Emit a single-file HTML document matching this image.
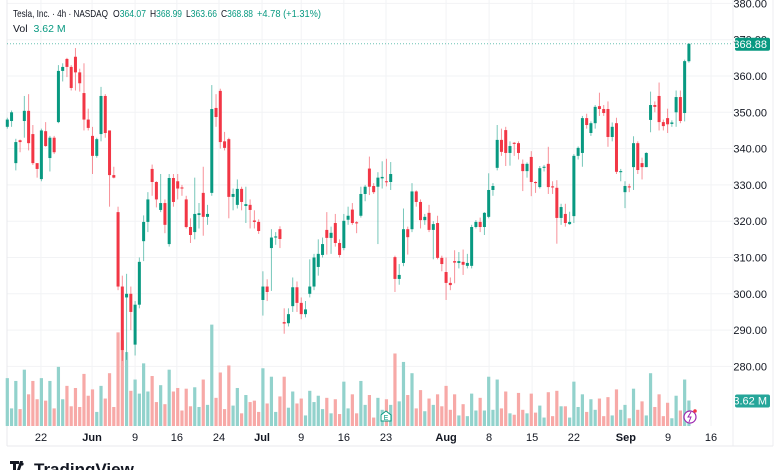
<!DOCTYPE html>
<html><head><meta charset="utf-8"><style>
html,body{margin:0;padding:0;background:#fff;}
svg{display:block;font-family:"Liberation Sans",sans-serif;}
</style></head><body>
<svg id="chart" width="780" height="470" viewBox="0 0 780 470">
<g id="grid"></g>
<g id="vols"></g>
<g id="candles"></g>
<g id="axes"></g>
<g font-size="10.5">
<text x="13" y="17" fill="#131722" textLength="95" lengthAdjust="spacingAndGlyphs">Tesla, Inc. · 4h · NASDAQ</text>
<text x="113" y="17" fill="#131722" textLength="33" lengthAdjust="spacingAndGlyphs">O<tspan fill="#089981">364.07</tspan></text>
<text x="150" y="17" fill="#131722" textLength="32" lengthAdjust="spacingAndGlyphs">H<tspan fill="#089981">368.99</tspan></text>
<text x="186" y="17" fill="#131722" textLength="31" lengthAdjust="spacingAndGlyphs">L<tspan fill="#089981">363.66</tspan></text>
<text x="221" y="17" fill="#131722" textLength="32" lengthAdjust="spacingAndGlyphs">C<tspan fill="#089981">368.88</tspan></text>
<text x="257" y="17" fill="#089981" textLength="64" lengthAdjust="spacingAndGlyphs">+4.78 (+1.31%)</text>
<text x="13" y="32" fill="#131722">Vol <tspan fill="#089981" dx="3">3.62 M</tspan></text>
</g>
<g>
<path d="M10 461h9v3h-3v9h-3v-9h-3z M20 461h3l-4 12h-3z" fill="#131722"/>
<circle cx="22" cy="464" r="1.6" fill="#131722"/>
<text x="34" y="475" font-size="17" font-weight="bold" fill="#131722">TradingView</text>
</g>
</svg>
<script>
const opens=[346,347.6,336,342.3,347.6,350.4,344,336,331.6,344.8,337.4,343,347.3,361.4,364.7,362.5,365.3,361,355.3,348,343.5,338,344,354.5,345,332.7,322.5,302,299,300,286,297,314.5,319.8,334.4,330.8,323.1,325,313.7,331.9,331,329.3,326,318.4,317,321.7,327.8,321.2,327.8,351.2,355.9,342,342.6,326.7,324.5,328.9,324.2,324.5,320.2,319.8,298.3,302,312.6,315.5,317.8,292.2,291.9,296.6,301.8,297.5,294.4,300,302,307.4,310.7,317.6,315.4,319.5,314,312.6,320.4,323.2,319.7,321.5,327.5,334.5,329.7,329.5,331.8,331,330.8,310.1,304.1,308.5,317.8,317.8,328.2,325.3,320.3,322.3,317.6,319.5,309.9,306,303,309,308.5,308.8,307.7,307.7,318.4,319.8,318.4,321.2,328.6,334.7,342.4,345.1,338.8,341.6,341.5,335.8,333.8,337.7,330.8,329.4,334.7,335.8,329.6,329.2,320.9,322,319.2,321.4,338,338.8,348.4,344.3,347,351.7,350.9,350.9,343.2,347,333.5,328,329.6,334.9,341.5,336,334.9,347.9,352,354.5,347.3,348.4,346.8,350,354.2,349.8,364.07];
const highs=[348.5,350.5,342.7,342.5,354.5,355,346.5,336,345.5,347.3,343.5,343.5,363,363.5,365,363,367.7,362,363.5,351,346,343,357,355,345,335,324,305,305.5,302,298,310,321.6,328,335.6,331,333,326,333,333,333,330,327,320.8,332,325,335,324.5,357.5,355,356.5,344.6,343,329,331.5,329.5,329.5,326,323,320.5,306.2,304,317.8,317,318.6,296,296,304.5,303.4,299,298,309.5,311,315,315.5,322.5,318.5,322,315,322,324,325,320,329.5,330,337.8,330.5,333.5,336.5,337.2,336.3,310.5,308.2,323.5,318.5,330.5,328.5,326,322,324.5,320,321.5,310.5,310,304.5,312,311.5,312.2,311,319,320.3,321,322.5,333.2,330.5,346.5,345.5,346,342,341.8,342,337,336.2,339.3,331,335.2,335.5,340.5,331,331.3,324.8,324.8,322.6,338.5,340.6,349,349.6,347.5,352,355.4,352,353,347.2,348.5,334.4,331,330.3,343.4,342,337.5,339,355.7,353,358.2,348,351,347.8,356,356,364.5,368.99];
const lows=[345.5,346,334,339,343,339.5,335.5,332,331,340.5,333.7,338.5,347,358.5,359.7,356,356,355.7,345,345,333,337.5,342,343,324,331.8,301,281.5,281.8,290,283,296,309,317,327,323.8,322.5,316.7,313,324,326,327,318,314,315,318,316,319,327,346,340,339.5,320.8,323,323.5,323,319.5,318,318,316.5,294,298,300.8,313.5,312.6,289,291,295,295,293,293.5,299,301,305,310,310.8,311,313,310,312,319,319,316.7,321,325.5,327.2,327.5,313.7,329,329.6,328.6,300.5,302.5,307.6,310.8,317,324,318,319,317,309.5,309.5,306.2,298.3,301,302.9,307,305.2,307,307,318,317,316.2,320.8,327,334,338,335.2,335.3,338,337,328.3,332,326.9,327.8,329,333.7,327.5,327.5,313.8,319,318.5,319,319.5,337,335,345.5,343.5,345.5,349,349,340.5,342,333,331,323.6,328,328.6,333,331.5,334.9,344.5,350,345,345,344.3,346,346,347,347.5,363.66];
const closes=[348,350,341.8,341.8,350.4,341.5,336,334.4,345,340.7,343,339,361.4,362.5,362.5,356.7,361,358,348,345.7,338,342.6,354.5,344.3,332.7,332,302,284.5,300,295,297,308.8,319.8,326,330.8,326,325,319,331.9,325.3,329,329,318.4,316.2,322,322.2,321.2,322,350.9,348.7,341.8,340.2,326.7,327.5,328.9,325.3,324.7,323.1,319.8,317.3,302,300.5,315.5,315.8,315.1,291.8,294.4,301.8,297.5,294.4,295.7,302,310,311,313.7,315.4,316.8,314,310.7,320.1,321.5,319.5,319.4,327.5,329.5,329.5,328,332,332.2,330.8,333,304.1,305.2,317.8,315.6,328.2,325.3,320.3,321.2,317.6,319.2,309.9,308.2,303,302.4,308.6,309,308,308.5,318.4,319.8,318.4,322.3,328.6,329.7,342.4,339.1,338.8,340.7,341.3,338.8,333.8,335.8,330.8,330.5,334.6,335,329.4,329.3,320.9,323.9,319.5,319.8,338,340.2,348.4,346.5,347,351.5,350.9,349.8,343.2,346,333.6,333.8,329.7,329.3,341.5,334.1,334.9,338.8,352,351.5,347.3,346.2,346.7,347.2,354.2,347.6,364.1,368.88];
const volumes=[6.8,2.5,6.4,2.4,8.0,4.5,6.4,3.8,6.8,3.6,6.4,2.5,8.4,3.8,5.7,2.8,5.4,2.7,7.4,4.3,5.2,2.0,5.7,3.9,7.5,2.7,13.3,12.2,10.5,5.0,6.6,4.6,8.9,4.9,7.1,3.4,5.8,3.1,8.0,4.9,5.4,2.2,5.3,2.8,5.5,2.7,6.6,3.0,14.4,4.0,7.6,2.4,8.6,2.9,5.4,1.8,4.4,3.4,3.6,2.0,8.2,3.2,7.0,2.0,4.2,7.0,2.6,4.9,3.2,3.9,1.5,5.0,3.4,4.3,2.4,4.0,1.8,3.8,1.7,6.3,2.5,4.5,1.8,6.4,3.0,4.4,1.2,4.0,2.3,3.8,3.0,10.3,3.5,9.1,4.4,7.5,2.5,5.1,2.1,3.9,3.0,4.5,2.8,5.7,2.3,4.5,1.5,3.1,1.4,4.6,2.2,4.0,2.2,7.0,2.3,6.6,2.5,4.9,1.8,1.6,4.7,2.3,1.8,4.6,1.9,2.9,1.2,4.8,1.4,5.0,2.8,2.8,1.2,6.3,2.7,4.5,2.0,3.8,2.3,3.9,1.4,4.1,1.5,5.2,2.3,3.0,1.1,5.3,2.3,3.5,1.5,7.5,2.7,4.5,1.4,3.3,1.1,4.3,2.2,6.6,3.62];
const priceTicks=[380,370,360,350,340,330,320,310,300,290,280];
const dateLabels=["22","Jun","9","16","24","Jul","9","16","23","Aug","8","15","22","Sep","9","16"];
const dateIdx=[7.9,19.9,30,39.8,49.7,59.8,69,79,88.9,103,113.1,123.2,133,145.2,155.1,165.2];

const NS="http://www.w3.org/2000/svg";
const GREEN="#089981",RED="#f23645",VG="#92d2cc",VR="#f7a9a7";
function xS(i){return 7.3+i*4.26;}
function yS(v){return 76+(360-v)*3.63;}
function vS(v){return 426-v*7.04;}
function mk(tag,attrs,parent){const e=document.createElementNS(NS,tag);for(const k in attrs)e.setAttribute(k,attrs[k]);parent.appendChild(e);return e;}
const grid=document.getElementById('grid'),axes=document.getElementById('axes'),vols=document.getElementById('vols'),cg=document.getElementById('candles');

mk('rect',{x:0,y:0,width:780,height:470,fill:'#fff'},grid);
priceTicks.forEach(p=>{
  const y=yS(p);
  const l=mk('line',{x1:7,x2:733,y1:y,y2:y,stroke:'#f2f3f5','stroke-width':1},grid);
  
  
  const t=mk('text',{x:767,y:y+4,'text-anchor':'end','font-size':11,fill:'#131722'},axes);
  t.textContent=p.toFixed(2);
  
  
});
dateLabels.forEach((d,k)=>{
  const x=xS(dateIdx[k]);
  const l=mk('line',{x1:x,x2:x,y1:0,y2:426,stroke:'#f2f3f5','stroke-width':1},grid);
  
  
  const bold=/[A-Za-z]/.test(d);
  const t=mk('text',{x:x,y:441,'text-anchor':'middle','font-size':11,fill:'#131722','font-weight':bold?'bold':'normal'},axes);
  t.textContent=d;
  
  
});
mk('line',{x1:7,x2:7,y1:0,y2:446,stroke:'#e8e9ec'},grid);
mk('line',{x1:733,x2:733,y1:0,y2:446,stroke:'#eceef1'},grid);
mk('line',{x1:773,x2:773,y1:0,y2:446,stroke:'#eceef1'},grid);
mk('line',{x1:7,x2:773,y1:446,y2:446,stroke:'#e8e9ec'},grid);

volumes.forEach((v,i)=>{
  const up=closes[i]>=opens[i];
  const r=mk('rect',{x:xS(i)-1.6,y:vS(v),width:3.2,height:426-vS(v),fill:up?VG:VR},vols);
  
  
});
opens.forEach((o,i)=>{
  const c=closes[i],up=c>=o,col=up?GREEN:RED,x=xS(i);
  const w=mk('line',{x1:x,x2:x,y1:yS(highs[i]),y2:yS(lows[i]),stroke:col,'stroke-width':1,'stroke-opacity':0.55},cg);
  
  
  const top=yS(Math.max(o,c)),h=Math.max(1,Math.abs(yS(o)-yS(c)));
  const b=mk('rect',{x:x-1.5,y:top,width:3,height:h,fill:col},cg);
  
  
});
const lp=closes[closes.length-1],ly=yS(lp);
const pl=mk('line',{x1:7,x2:733,y1:ly,y2:ly,stroke:GREEN,'stroke-width':1,'stroke-dasharray':'1 2','stroke-opacity':0.6},axes);


const pb=mk('rect',{x:735,y:ly-6,width:35,height:13,rx:2,fill:GREEN},axes);


const pt=mk('text',{x:767,y:ly+4,'text-anchor':'end','font-size':11,fill:'#fff'},axes);
pt.textContent=lp.toFixed(2);


const lv=volumes[volumes.length-1],vy=vS(lv);
const vb=mk('rect',{x:735,y:vy-6,width:35,height:13,rx:2,fill:'#26a69a'},axes);


const vt=mk('text',{x:767,y:vy+4,'text-anchor':'end','font-size':11,fill:'#fff'},axes);
vt.textContent=lv.toFixed(2)+' M';


const em=mk('g',{},axes);


mk('path',{d:'M381 421 v-6 l5 -4 l5 4 v6 z',fill:'#fff',stroke:GREEN,'stroke-width':1},em);
mk('text',{x:386,y:420,'text-anchor':'middle','font-size':7,fill:GREEN}, em).textContent='E';
const ai=mk('g',{},axes);


mk('circle',{cx:690,cy:417,r:6,fill:'#fff',stroke:'#9c27b0','stroke-width':1.2},ai);
mk('path',{d:'M691 412 l-3 5 h3 l-2 5',fill:'none',stroke:'#9c27b0','stroke-width':1},ai);
mk('circle',{cx:695,cy:411,r:1.8,fill:'#f23645'},ai);
</script>
</body></html>
